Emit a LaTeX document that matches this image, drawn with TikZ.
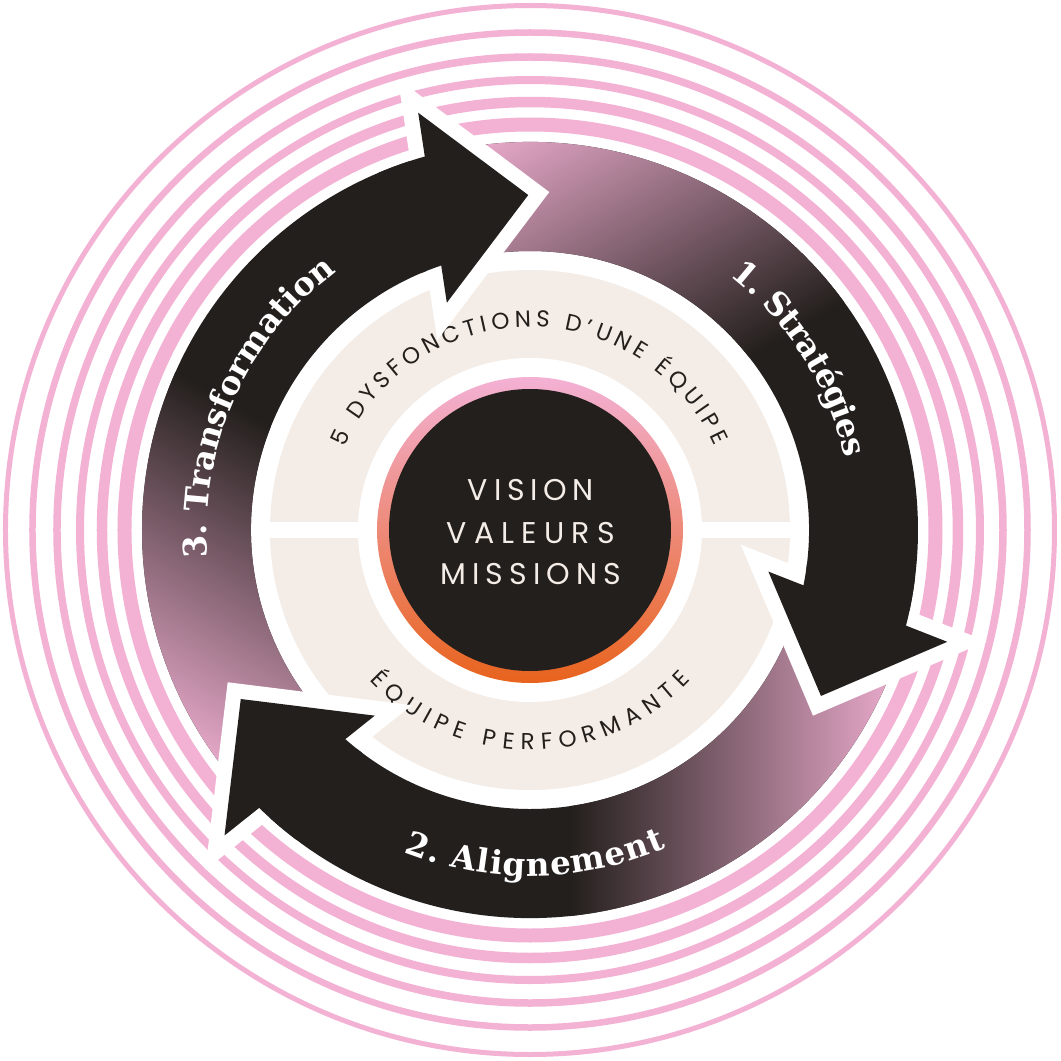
\documentclass[tikz,border=0pt]{standalone}
\usepackage{fontspec}
\newfontfamily\popp{Poppins}
\newfontfamily\dser{DejaVu Serif}
\definecolor{ringpink}{HTML}{F3B1D4}
\definecolor{beige}{HTML}{F4ECE6}
\definecolor{ink}{HTML}{231F1C}
\definecolor{orng}{HTML}{E8631D}
\makeatletter
\newlength\atw
\newcount\atn
\newsavebox\atbox
% computed OUTSIDE the picture: list of angle/rotation/char for text on an arc
% #1 name, #2 font, #3 baseline radius, #4 centre angle,
% #5 span (first to last char centre), #6 mode (1 clockwise / -1 counter-clockwise), #7 chars
\newcommand\arcprep[7]{%
  \gdef\atSum{0}\global\atn=0
  \foreach \ch in {#7}{%
    \sbox\atbox{#2\ch}\atw=\wd\atbox
    \edef\cw{\strip@pt\atw}%
    \pgfmathsetmacro\tmp{\atSum+\cw}\xdef\atSum{\tmp}%
    \ifnum\atn=0 \xdef\atFirst{\cw}\fi
    \xdef\atLast{\cw}%
    \global\advance\atn by 1
  }%
  \pgfmathsetmacro\atT{((#5*0.01745329)*#3-(\atSum-\atFirst/2-\atLast/2))/(\the\atn-1)}%
  \xdef\atT{\atT}%
  \global\atn=0 \gdef\atS{0}\gdef\atPrev{0}\gdef\atL{}%
  \foreach \ch in {#7}{%
    \sbox\atbox{#2\ch}\atw=\wd\atbox
    \edef\cw{\strip@pt\atw}%
    \ifnum\atn>0
      \pgfmathsetmacro\tmp{\atS+\atPrev/2+\atT+\cw/2}\xdef\atS{\tmp}%
    \fi
    \xdef\atPrev{\cw}%
    \global\advance\atn by 1
    \pgfmathsetmacro\ang{#4+(#6)*(#5/2-(\atS/#3)*57.29578)}%
    \pgfmathsetmacro\rot{\ang-(#6)*90}%
    \xdef\atL{\atL\ifx\atL\empty\else,\fi\ang/\rot/\unexpanded\expandafter{\ch}}%
  }%
  \global\expandafter\let\csname atl@#1\endcsname\atL
}
% drawn inside the picture: #1 name, #2 font, #3 colour, #4 baseline radius
\newcommand\arcdraw[4]{%
  \expandafter\let\expandafter\curlist\csname atl@#1\endcsname
  \foreach \a/\r/\c [count=\k] in \curlist {%
    \node[name=#1\k, anchor=base, inner sep=0pt, outer sep=0pt,
          rotate=\r, text=#3, font=#2] at (\a:#4) {\c};
  }%
}
\makeatother
\newcommand\popfont{\popp\fontsize{23}{23}\selectfont}
\newcommand\serfont{\dser\bfseries\fontsize{32.5}{32.5}\selectfont}
\tikzset{
  headoutline/.style={white, line width=30pt, line join=miter, miter limit=10},
  centertext/.style={anchor=base, inner sep=0pt, text=beige, font=\popp\fontsize{30}{30}\selectfont}
}
\begin{document}
\arcprep{dys}{\popfont}{203}{90}{127.7}{1}{5,~,D,Y,S,F,O,N,C,T,I,O,N,S,~,D,’,U,N,E,~,É,Q,U,I,P,E}%
\arcprep{perf}{\popfont}{220}{270}{90.8}{-1}{É,Q,U,I,P,E,~,P,E,R,F,O,R,M,A,N,T,E}%
\arcprep{strat}{\serfont}{323.5}{32.2}{35.45}{1}{1,.,~,S,t,r,a,t,é,g,i,e,s}%
\arcprep{align}{\serfont}{346}{271.2}{41.5}{-1}{2,.,~,A,l,i,g,n,e,m,e,n,t}%
\arcprep{trans}{\serfont}{323}{155.9}{54}{1}{3,.,~,T,r,a,n,s,f,o,r,m,a,t,i,o,n}%
\begin{tikzpicture}[x=1pt,y=1pt]
\useasboundingbox (-530,-531) rectangle (531,530);
\fill[white] (-530,-531) rectangle (531,530);
% concentric rings
\foreach \rr/\ww in {524.5/5, 497.5/6.5, 473/7.5, 450/8, 428/10.5, 405.5/14}
  \draw[ringpink, line width=\ww pt] (0,0) circle[radius=\rr];
% inner disc
\fill[beige] (0,0) circle[radius=260];
\fill[white] (-262,-8.3) rectangle (262,8.3);
\fill[white] (0,0) circle[radius=172];
\shade[top color=ringpink, middle color=ringpink!92!orng, bottom color=orng] (0,0) circle[radius=153];
\fill[ink] (0,0) circle[radius=141];
\node[centertext, name=vision] at (1,29.3) {\makebox[126pt][s]{V\hfil I\hfil S\hfil I\hfil O\hfil N}};
\node[centertext, name=valeurs] at (1,-13.3) {\makebox[168pt][s]{V\hfil A\hfil L\hfil E\hfil U\hfil R\hfil S}};
\node[centertext, name=missions] at (1,-54) {\makebox[181pt][s]{M\hfil I\hfil S\hfil S\hfil I\hfil O\hfil N\hfil S}};
\arcdraw{dys}{\popfont}{ink}{203}
\arcdraw{perf}{\popfont}{ink}{220}
% shafts with gradient
\foreach \ph in {0,-120,-240}{
  \pgfmathsetmacro\sa{222+(\ph)}
  \pgfmathsetmacro\sb{104+(\ph)}
  \pgfmathsetmacro\gd{60+(\ph)}
  \begin{scope}
    \clip (\sa:388) arc[start angle=\sa, end angle=\sb, radius=388] -- (\sb:279)
          arc[start angle=\sb, end angle=\sa, radius=279] -- cycle;
    \fill[ink] (-600,-600) rectangle (600,600);
    \begin{scope}[transform canvas={rotate=\gd}]
      \fill[ringpink] (-700,-700) rectangle (-380,700);
      \foreach \yy in {-510,-170,170}
        \shade[left color=ringpink, right color=ink] (-380,\yy-1) rectangle (-40,\yy+341);
    \end{scope}
  \end{scope}
}
% head outlines
\foreach \ph in {0,-120,-240}{
  \pgfmathsetmacro\ao{105+(\ph)}
  \pgfmathsetmacro\at{90.3+(\ph)}
  \pgfmathsetmacro\ai{110.1+(\ph)}
  \draw[headoutline] (\ao:432) -- (\at:335) -- (\ai:242) -- cycle;
}
% restore shaft ends
\foreach \ph in {0,-120,-240}{
  \pgfmathsetmacro\ea{113+(\ph)}
  \pgfmathsetmacro\eb{103+(\ph)}
  \fill[ink] (\ea:388) arc[start angle=\ea, end angle=\eb, radius=388] -- (\eb:279)
        arc[start angle=\eb, end angle=\ea, radius=279] -- cycle;
}
% heads
\foreach \ph in {0,-120,-240}{
  \pgfmathsetmacro\ao{105+(\ph)}
  \pgfmathsetmacro\at{90.3+(\ph)}
  \pgfmathsetmacro\ai{110.1+(\ph)}
  \fill[ink] (\ao:432) -- (\at:335) -- (\ai:242) -- cycle;
}
% labels
\arcdraw{strat}{\serfont}{white}{323.5}
\arcdraw{align}{\serfont}{white}{346}
\arcdraw{trans}{\serfont}{white}{323}
\end{tikzpicture}
\end{document}
